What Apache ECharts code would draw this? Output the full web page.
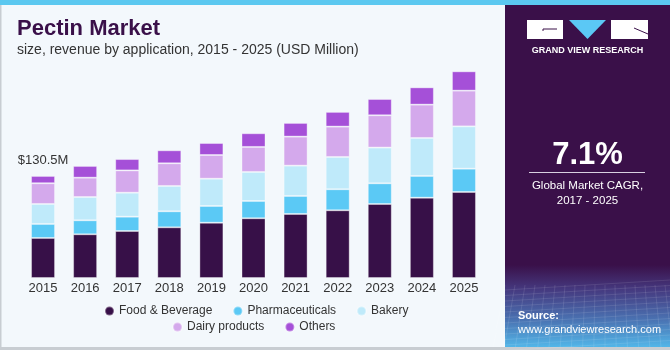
<!DOCTYPE html>
<html>
<head>
<meta charset="utf-8">
<script src="https://cdn.jsdelivr.net/npm/echarts@6/dist/echarts.min.js"></script>
<style>
html,body{margin:0;padding:0;background:#f3f8fc;}
#chart{width:670px;height:350px;}
</style>
</head>
<body>
<div id="chart"></div>
<script>
const years = ['2015','2016','2017','2018','2019','2020','2021','2022','2023','2024','2025'];
const foodBeverage   = [51.2, 55.9, 60.1, 64.8, 70.7, 76.4, 81.9, 86.6, 94.6, 102.7, 110.0];
const pharmaceuticals = [17.9, 17.9, 18.3, 20.5, 21.4, 22.1, 23.0, 26.9, 26.5, 27.8, 29.8];
const bakery         = [25.6, 29.8, 30.7, 32.4, 34.9, 37.1, 38.8, 41.3, 45.7, 48.6, 54.1];
const dairyProducts  = [26.5, 24.7, 28.5, 29.0, 30.3, 32.0, 37.1, 38.8, 41.3, 42.6, 45.7];
const others         = [9.3, 15.0, 14.5, 16.6, 15.3, 17.5, 17.5, 18.8, 20.8, 22.1, 24.7];
const firstLabel = '$130.5M';
const seriesNames = ['Food & Beverage','Pharmaceuticals','Bakery','Dairy products','Others'];
const colors = ['#371048','#5bc9f5','#bfeafa','#d4a9ec','#a550d8'];

const chart = echarts.init(document.getElementById('chart'));
const font = '"Liberation Sans", Arial, sans-serif';

function mk(name, data, color, withLabel) {
  const s = {
    name: name, type: 'bar', stack: 'total', data: data.slice(),
    barWidth: 24,
    itemStyle: { color: color, borderColor: 'rgba(255,255,255,0.35)', borderWidth: 1 },
    emphasis: { disabled: true }
  };
  if (withLabel) {
    s.data = data.map((v, i) => i === 0 ? {
      value: v,
      label: { show: true, position: 'top', distance: 9, formatter: firstLabel,
               color: '#333', fontSize: 13, fontFamily: font }
    } : v);
  }
  return s;
}

// mesh texture lines for the source box
const mesh = [];
for (let i = 0; i < 12; i++) {
  const y = 284 + i * 5.5;
  mesh.push({ type: 'line', shape: { x1: 505, y1: y + 6, x2: 670, y2: y - 4 },
    style: { stroke: 'rgba(255,255,255,0.10)', lineWidth: 1 }, z: -1 });
}
for (let i = 0; i < 18; i++) {
  const x = 505 + i * 10;
  mesh.push({ type: 'line', shape: { x1: x, y1: 285, x2: x - 12 + i * 1.2, y2: 347 },
    style: { stroke: 'rgba(255,255,255,0.10)', lineWidth: 1 }, z: -1 });
}

const panelX = 505;
chart.setOption({
  backgroundColor: '#f3f8fc',
  animation: false,
  grid: { left: 22, right: 185, top: 43.4, bottom: 72 },
  xAxis: {
    type: 'category', data: years,
    axisLine: { show: false }, axisTick: { show: false },
    axisLabel: { color: '#333', fontSize: 13, fontFamily: font, margin: 4 }
  },
  yAxis: { type: 'value', min: 0, max: 300, show: false, splitLine: { show: false } },
  legend: [
    { data: seriesNames.slice(0, 3), left: 104, top: 305, padding: 0, icon: 'circle',
      itemWidth: 9, itemHeight: 9, itemGap: 20,
      textStyle: { color: '#333', fontSize: 12, fontFamily: font } },
    { data: seriesNames.slice(3), left: 172, top: 321, padding: 0, icon: 'circle',
      itemWidth: 9, itemHeight: 9, itemGap: 20,
      textStyle: { color: '#333', fontSize: 12, fontFamily: font } }
  ],
  series: [
    mk(seriesNames[0], foodBeverage, colors[0]),
    mk(seriesNames[1], pharmaceuticals, colors[1]),
    mk(seriesNames[2], bakery, colors[2]),
    mk(seriesNames[3], dairyProducts, colors[3]),
    mk(seriesNames[4], others, colors[4], true)
  ],
  graphic: [
    { type: 'rect', shape: { x: 0, y: 0, width: 670, height: 5 }, style: { fill: '#5bc8f0' }, z: -2 },
    { type: 'rect', shape: { x: 0, y: 5, width: 1.5, height: 345 }, style: { fill: '#c8cdd2' }, z: -2 },
    { type: 'rect', shape: { x: 0, y: 347, width: 670, height: 3 }, style: { fill: '#c8cdd2' }, z: -2 },
    { type: 'rect', shape: { x: panelX, y: 5, width: 165, height: 342 },
      style: { fill: new echarts.graphic.LinearGradient(0, 0, 0, 1, [
        { offset: 0, color: '#3a1049' }, { offset: 0.76, color: '#3a1049' },
        { offset: 0.83, color: '#45387e' }, { offset: 0.92, color: '#4a72b2' },
        { offset: 1, color: '#52b6e8' }]) }, z: -2 },
    ...mesh,
    // logo
    { type: 'rect', shape: { x: 527, y: 20, width: 36, height: 19 }, style: { fill: '#ffffff' } },
    { type: 'polyline', shape: { points: [[543, 31], [543, 29], [557, 29]] }, style: { stroke: '#3a1049', lineWidth: 1, fill: null } },
    { type: 'polygon', shape: { points: [[569, 20], [606, 20], [587.5, 39]] }, style: { fill: '#5bc8f5' } },
    { type: 'rect', shape: { x: 611, y: 20, width: 37, height: 19 }, style: { fill: '#ffffff' } },
    { type: 'polyline', shape: { points: [[634, 28], [648, 34]] }, style: { stroke: '#3a1049', lineWidth: 1, fill: null } },
    { type: 'text', x: 587.5, y: 51, style: { text: 'GRAND VIEW RESEARCH', fill: '#ffffff',
      font: 'bold 9px "Liberation Sans", Arial, sans-serif', textAlign: 'center', textVerticalAlign: 'middle' } },
    // CAGR
    { type: 'text', x: 587.5, y: 155, style: { text: '7.1%', fill: '#ffffff',
      font: 'bold 31px "Liberation Sans", Arial, sans-serif', textAlign: 'center', textVerticalAlign: 'middle' } },
    { type: 'rect', shape: { x: 529, y: 172, width: 116, height: 1 }, style: { fill: '#d8d0e0' } },
    { type: 'text', x: 587.5, y: 186, style: { text: 'Global Market CAGR,', fill: '#ffffff',
      font: '11.5px "Liberation Sans", Arial, sans-serif', textAlign: 'center', textVerticalAlign: 'middle' } },
    { type: 'text', x: 587.5, y: 200.5, style: { text: '2017 - 2025', fill: '#ffffff',
      font: '11.5px "Liberation Sans", Arial, sans-serif', textAlign: 'center', textVerticalAlign: 'middle' } },
    // Source
    { type: 'text', x: 518, y: 316, style: { text: 'Source:', fill: '#ffffff',
      font: 'bold 11px "Liberation Sans", Arial, sans-serif', textAlign: 'left', textVerticalAlign: 'middle' } },
    { type: 'text', x: 518, y: 329.5, style: { text: 'www.grandviewresearch.com', fill: '#ffffff',
      font: '11px "Liberation Sans", Arial, sans-serif', textAlign: 'left', textVerticalAlign: 'middle' } },
    // Title
    { type: 'text', x: 17, y: 29, style: { text: 'Pectin Market', fill: '#3a1049',
      font: 'bold 22px "Liberation Sans", Arial, sans-serif', textAlign: 'left', textVerticalAlign: 'middle' } },
    { type: 'text', x: 17, y: 50, style: { text: 'size, revenue by application, 2015 - 2025 (USD Million)', fill: '#333',
      font: '14px "Liberation Sans", Arial, sans-serif', textAlign: 'left', textVerticalAlign: 'middle' } }
  ]
});
</script>
</body>
</html>
